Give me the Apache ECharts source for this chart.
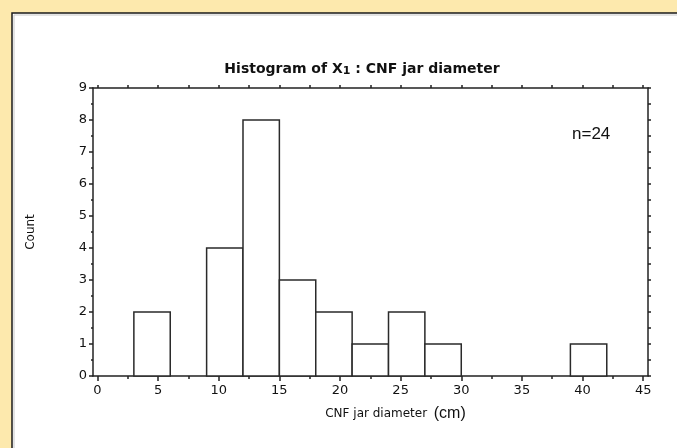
<!DOCTYPE html>
<html>
<head>
<meta charset="UTF-8">
<title>histogram</title>
<style>
	html,body{margin:0;padding:0;background:#fde9ad;}
	#mychart{width:677px;height:448px;}
</style>
</head>
<body>
<div id="mychart"></div>
<script type="text/javascript" src="https://cdn.jsdelivr.net/npm/echarts@6/dist/echarts.min.js"></script>
<script type="text/javascript">
// histogram bins (cm) and counts
var binLow = [3, 9, 12, 15, 18, 21, 24, 27, 39];
var binHigh = [6, 12, 15, 18, 21, 24, 27, 30, 42];
var counts = [2, 4, 8, 3, 2, 1, 2, 1, 1];
var xTicks = [0, 5, 10, 15, 20, 25, 30, 35, 40, 45];
var xMinorTicks = [2.5, 7.5, 12.5, 17.5, 22.5, 27.5, 32.5, 37.5, 42.5];
var topTicks = [0, 2.5, 5, 7.5, 10, 12.5, 15, 17.5, 20, 22.5, 25, 27.5, 30, 32.5, 35, 37.5, 40, 42.5, 45];
var yTicks = [0, 1, 2, 3, 4, 5, 6, 7, 8, 9];

var bins = [];
for (var i = 0; i < counts.length; i++) {
	bins.push([binLow[i], binHigh[i], counts[i]]);
}

var myChart = echarts.init(document.getElementById("mychart"));
var ink = '#222';
var geneva = '"DejaVu Sans", Verdana, sans-serif';

var option = {
	backgroundColor: '#fde9ad',
	animation: false,
	graphic: [
		{ // white panel
			type: 'rect', z: -10,
			shape: { x: 12, y: 13, width: 700, height: 460 },
			style: { fill: '#fff', stroke: '#1a1a1a', lineWidth: 1.5 }
		},
		{
			type: 'polyline', z: -9,
			shape: { points: [[14, 470], [14, 15], [700, 15]] },
			style: { fill: null, stroke: '#c8c8c8', lineWidth: 1 }
		}
	],
	title: [
		{
			text: 'Histogram of X{sub|1} : CNF jar diameter',
			left: 357, top: 56, textAlign: 'center',
			textStyle: {
				fontFamily: geneva, fontWeight: 'bold', fontSize: 14, color: '#111',
				rich: { sub: { fontFamily: geneva, fontWeight: 'bold', fontSize: 11, color: '#111', verticalAlign: 'bottom', padding: [5, 0, 0, 0] } }
			}
		},
		{
			text: 'n=24',
			left: 567, top: 121,
			textStyle: { fontFamily: 'Liberation Sans, Arial', fontWeight: 'normal', fontSize: 17, color: '#111' }
		}
	],
	grid: { left: 93, right: 29, top: 88, bottom: 72 },
	xAxis: [
		{
			type: 'value', position: 'bottom', min: -0.37, max: 45.4,
			name: '{a|CNF jar diameter}  {b|(cm)}',
			nameLocation: 'middle', nameGap: 30,
			nameTextStyle: {
				padding: [0, 0, 0, 50],
				rich: {
					a: { fontFamily: geneva, fontSize: 12, color: '#111' },
					b: { fontFamily: 'Liberation Sans, Arial', fontSize: 16, color: '#111' }
				}
			},
			axisLine: { onZero: false, lineStyle: { color: ink, width: 1.5 } },
			axisTick: { customValues: xTicks, length: 5, lineStyle: { color: ink, width: 1.5 } },
			axisLabel: { customValues: xTicks, margin: 8, fontFamily: geneva, fontSize: 13, color: '#111' },
			splitLine: { show: false }
		},
		{ // minor ticks on bottom
			type: 'value', position: 'bottom', min: -0.37, max: 45.4,
			axisLine: { show: false, onZero: false },
			axisTick: { customValues: xMinorTicks, length: 3, lineStyle: { color: ink, width: 1.5 } },
			axisLabel: { show: false },
			splitLine: { show: false }
		},
		{ // top frame
			type: 'value', position: 'top', min: -0.37, max: 45.4,
			axisLine: { onZero: false, lineStyle: { color: ink, width: 1.5 } },
			axisTick: { customValues: topTicks, length: 3, lineStyle: { color: ink, width: 1.5 } },
			axisLabel: { show: false },
			splitLine: { show: false }
		}
	],
	yAxis: [
		{
			type: 'value', position: 'left', min: 0, max: 9, interval: 1,
			name: 'Count', nameLocation: 'middle', nameGap: 56, nameRotate: 90,
			nameTextStyle: { fontFamily: geneva, fontSize: 12, color: '#111' },
			axisLine: { show: true, onZero: false, lineStyle: { color: ink, width: 1.5 } },
			axisTick: { show: true, length: 4, lineStyle: { color: ink, width: 1.5 } },
			minorTick: { show: true, splitNumber: 2, length: 2, lineStyle: { color: ink, width: 1.5 } },
			axisLabel: { customValues: yTicks, margin: 6, fontFamily: geneva, fontSize: 13, color: '#111' },
			splitLine: { show: false }
		},
		{ // right frame
			type: 'value', position: 'right', min: 0, max: 9, interval: 0.5,
			axisLine: { show: true, onZero: false, lineStyle: { color: ink, width: 1.5 } },
			axisTick: { show: true, length: 3, lineStyle: { color: ink, width: 1.5 } },
			axisLabel: { show: false },
			splitLine: { show: false }
		}
	],
	series: [
		{
			type: 'custom',
			xAxisIndex: 0, yAxisIndex: 0,
			data: bins,
			encode: { x: [0, 1], y: 2 },
			renderItem: function (params, api) {
				var p0 = api.coord([api.value(0), api.value(2)]);
				var p1 = api.coord([api.value(1), 0]);
				return {
					type: 'rect',
					shape: { x: p0[0], y: p0[1], width: p1[0] - p0[0], height: p1[1] - p0[1] },
					style: { fill: '#fff', stroke: '#2a2a2a', lineWidth: 1.5 }
				};
			}
		}
	]
};
myChart.setOption(option);
</script>
</body>
</html>
